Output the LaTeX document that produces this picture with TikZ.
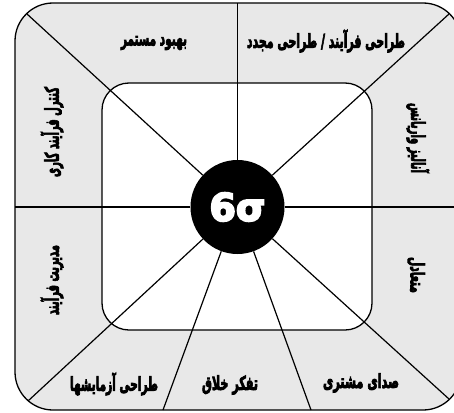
\documentclass[tikz,border=0pt]{standalone}
\usepackage{fontspec}
\TeXXeTstate=1
\newfontfamily\fa[Script=Arabic, BoldFeatures={FakeBold=5}]{DejaVu Sans}
\definecolor{band}{RGB}{232,232,232}
\tikzset{
  frame/.style={draw=black, line width=1.3pt},
  spoke/.style={draw=black, line width=1.2pt},
  hub/.style={circle, fill=black, minimum size=94pt, inner sep=0pt, text=white, font=\fontsize{38}{40}\selectfont\bfseries\sffamily},
  lbl/.style={inner sep=0pt, anchor=center, font=\fontsize{19}{19}\selectfont\fa\bfseries}
}
\begin{document}
\begin{tikzpicture}[x=1pt,y=-1pt]
\useasboundingbox (0,0) rectangle (454,412);
\clip (0,0) rectangle (454,412);
\draw[frame, fill=band, rounded corners=38pt] (15,3) rectangle (461,410);
\draw[frame, fill=white, rounded corners=27pt] (102,83) rectangle (372,330);
\node[hub] (c) at (237.5,207) {\fa\bfseries 6σ};
\coordinate (top) at (237.5,3);
\coordinate (left) at (15,207);
\coordinate (right) at (461,207);
\coordinate (tl) at (27,14);
\coordinate (tr) at (449,14);
\coordinate (bl) at (28,401);
\coordinate (br) at (449,399);
\coordinate (bml) at (163,410);
\coordinate (bmr) at (311,410);
\foreach \p in {top,left,right,tl,tr,bl,br,bml,bmr} \draw[spoke] (c) -- (\p);
\node[lbl] (l1) at (154,43) {\resizebox{66pt}{\height}{\beginR بهبود مستمر\endR}};
\node[lbl] (l2) at (326,41) {\resizebox{158pt}{\height}{\beginR طراحی فرآیند / طراحی مجدد\endR}};
\node[lbl, rotate=-90] (l3) at (418,138) {\resizebox{70pt}{\height}{\beginR آنالیز واریانس\endR}};
\node[lbl, rotate=-90] (l4) at (416,275) {\resizebox{36pt}{\height}{\beginR متعادل\endR}};
\node[lbl] (l5) at (361,383) {\resizebox{76pt}{\height}{\beginR صدای مشتری\endR}};
\node[lbl] (l6) at (230,385) {\resizebox{56pt}{\height}{\beginR تفکر خلاق\endR}};
\node[lbl] (l7) at (114,384) {\resizebox{88pt}{\height}{\beginR طراحی آزمایشها\endR}};
\node[lbl, rotate=90] (l8) at (52,280) {\resizebox{70pt}{\height}{\beginR مدیریت فرآیند\endR}};
\node[lbl, rotate=90] (l9) at (52,132) {\resizebox{90pt}{\height}{\beginR کنترل فرآیند کاری\endR}};
\end{tikzpicture}
\end{document}
